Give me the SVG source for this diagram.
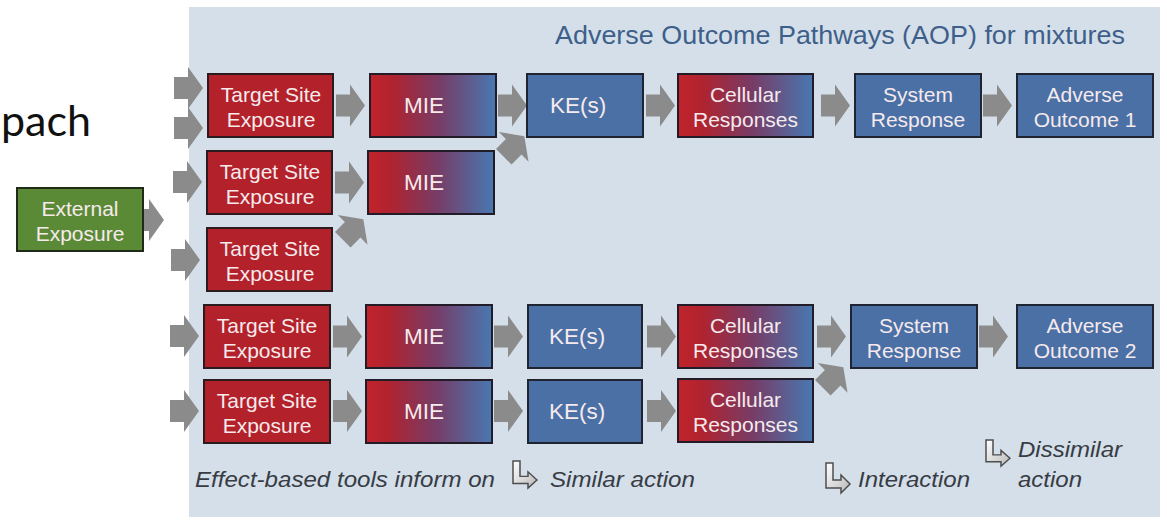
<svg xmlns="http://www.w3.org/2000/svg" xmlns:xlink="http://www.w3.org/1999/xlink" width="1167" height="524" viewBox="0 0 1167 524">
<style>
.red{fill:#b3212a;stroke:#2b1a1e;stroke-width:2}
.blue{fill:#4a70a6;stroke:#1f2430;stroke-width:2}
.grad{fill:url(#rb);stroke:#221c28;stroke-width:2}
.green{fill:#5b8a37;stroke:#1f2a18;stroke-width:2}
.t{font-family:"Liberation Sans",Arial,sans-serif;font-size:21px;fill:#f6eaec;text-anchor:middle}
.t1{font-family:"Liberation Sans",Arial,sans-serif;font-size:22.5px;fill:#f6eaec;text-anchor:middle}
.leg{font-family:"Liberation Sans",Arial,sans-serif;font-size:22px;font-style:italic;fill:#383c44}
.arr{fill:#8b8b8b}
.bend{fill:url(#lg);stroke:#4e4e4e;stroke-width:1.5;stroke-linejoin:miter}
</style>
<defs>
<linearGradient id="rb" x1="0" y1="0" x2="1" y2="0">
<stop offset="0" stop-color="#c2232b"/>
<stop offset="0.18" stop-color="#b0232f"/>
<stop offset="0.55" stop-color="#773c66"/>
<stop offset="1" stop-color="#4878b1"/>
</linearGradient>
<linearGradient id="lg" x1="0" y1="0" x2="1" y2="1">
<stop offset="0" stop-color="#ffffff"/>
<stop offset="1" stop-color="#b8b8b8"/>
</linearGradient>
<path id="arrow" d="M-14,-11 H0 V-21 L15,0 L0,21 V11 H-14 Z"/>
<path id="bendarrow" d="M0,0 H7 V17 H15 V12 L24,21 L15,30 V25 H0 Z"/>
</defs>

<rect x="0" y="0" width="1167" height="524" fill="#ffffff"/>
<rect id="panel" x="189" y="7" width="971" height="510" fill="#d4dfe9"/>

<text x="1" y="136" font-family="Lato,'Open Sans',sans-serif" font-size="43" fill="#111111">pach</text>
<text x="555" y="44" font-family="'Liberation Sans',Arial,sans-serif" font-size="26" fill="#3e5f8a" textLength="570" lengthAdjust="spacingAndGlyphs">Adverse Outcome Pathways (AOP) for mixtures</text>

<g id="connectors" class="arr">
<use href="#arrow" transform="translate(188,88)"/>
<use href="#arrow" transform="translate(188,128)"/>
<use href="#arrow" transform="translate(187,182)"/>
<use href="#arrow" transform="translate(185,260)"/>
<use href="#arrow" transform="translate(184,336)"/>
<use href="#arrow" transform="translate(184,411)"/>
<use href="#arrow" transform="translate(149,220)"/>
<use href="#arrow" transform="translate(350,105.5)"/>
<use href="#arrow" transform="translate(512,105.5)"/>
<use href="#arrow" transform="translate(660,105.5)"/>
<use href="#arrow" transform="translate(835,105.5)"/>
<use href="#arrow" transform="translate(997,105.5)"/>
<use href="#arrow" transform="translate(349,182.5)"/>
<use href="#arrow" transform="translate(347,336.5)"/>
<use href="#arrow" transform="translate(508,336.5)"/>
<use href="#arrow" transform="translate(661,336.5)"/>
<use href="#arrow" transform="translate(831,336.5)"/>
<use href="#arrow" transform="translate(993,336.5)"/>
<use href="#arrow" transform="translate(347,411)"/>
<use href="#arrow" transform="translate(508,411)"/>
<use href="#arrow" transform="translate(661,411)"/>
<use href="#arrow" transform="translate(513.7,146.8) rotate(-45)"/>
<use href="#arrow" transform="translate(352.7,229.8) rotate(-45)"/>
<use href="#arrow" transform="translate(832.7,377.8) rotate(-45)"/>
</g>

<g id="ext"><rect class="green" x="17" y="188" width="126" height="63"/><text class="t" x="80" y="215.5">External</text><text class="t" x="80" y="241">Exposure</text></g>

<g id="tse1"><rect class="red" x="208" y="74" width="125" height="63"/><text class="t" x="271" y="101.5">Target Site</text><text class="t" x="271" y="127">Exposure</text></g>
<g id="mie1"><rect class="grad" x="370" y="74" width="126" height="63"/><text class="t1" x="424" y="113">MIE</text></g>
<g id="ke1"><rect class="blue" x="527" y="74" width="116" height="63"/><text class="t1" x="578" y="113">KE(s)</text></g>
<g id="cell1"><rect class="grad" x="678" y="74" width="135" height="63"/><text class="t" x="745.5" y="101.5">Cellular</text><text class="t" x="745.5" y="127">Responses</text></g>
<g id="sys1"><rect class="blue" x="855" y="74" width="126" height="63"/><text class="t" x="918" y="101.5">System</text><text class="t" x="918" y="127">Response</text></g>
<g id="ao1"><rect class="blue" x="1017" y="74" width="136" height="63"/><text class="t" x="1085" y="101.5">Adverse</text><text class="t" x="1085" y="127">Outcome 1</text></g>

<g id="tse2"><rect class="red" x="207" y="151" width="125" height="63"/><text class="t" x="270" y="178.5">Target Site</text><text class="t" x="270" y="204">Exposure</text></g>
<g id="mie2"><rect class="grad" x="368" y="151" width="126" height="63"/><text class="t1" x="424" y="190">MIE</text></g>

<g id="tse3"><rect class="red" x="207" y="228" width="125" height="63"/><text class="t" x="270" y="255.5">Target Site</text><text class="t" x="270" y="281">Exposure</text></g>

<g id="tse4"><rect class="red" x="204" y="305" width="126" height="63"/><text class="t" x="267" y="332.5">Target Site</text><text class="t" x="267" y="358">Exposure</text></g>
<g id="mie4"><rect class="grad" x="366" y="305" width="126" height="63"/><text class="t1" x="424" y="344">MIE</text></g>
<g id="ke4"><rect class="blue" x="528" y="305" width="114" height="63"/><text class="t1" x="577" y="344">KE(s)</text></g>
<g id="cell4"><rect class="grad" x="678" y="305" width="135" height="63"/><text class="t" x="745.5" y="332.5">Cellular</text><text class="t" x="745.5" y="358">Responses</text></g>
<g id="sys4"><rect class="blue" x="851" y="305" width="126" height="63"/><text class="t" x="914" y="332.5">System</text><text class="t" x="914" y="358">Response</text></g>
<g id="ao2"><rect class="blue" x="1017" y="305" width="136" height="63"/><text class="t" x="1085" y="332.5">Adverse</text><text class="t" x="1085" y="358">Outcome 2</text></g>

<g id="tse5"><rect class="red" x="204" y="380" width="126" height="63"/><text class="t" x="267" y="407.5">Target Site</text><text class="t" x="267" y="433">Exposure</text></g>
<g id="mie5"><rect class="grad" x="366" y="380" width="126" height="63"/><text class="t1" x="424" y="419">MIE</text></g>
<g id="ke5"><rect class="blue" x="528" y="380" width="114" height="63"/><text class="t1" x="577" y="419">KE(s)</text></g>
<g id="cell5"><rect class="grad" x="678" y="379" width="135" height="63"/><text class="t" x="745.5" y="406.5">Cellular</text><text class="t" x="745.5" y="432">Responses</text></g>

<g id="legend">
<text class="leg" x="195" y="487" textLength="300" lengthAdjust="spacingAndGlyphs">Effect-based tools inform on</text>
<use href="#bendarrow" class="bend" transform="translate(513,461) scale(1,0.9)"/>
<text class="leg" x="550" y="487" textLength="145" lengthAdjust="spacingAndGlyphs">Similar action</text>
<use href="#bendarrow" class="bend" transform="translate(826,463)"/>
<text class="leg" x="858" y="487" textLength="112" lengthAdjust="spacingAndGlyphs">Interaction</text>
<use href="#bendarrow" class="bend" transform="translate(986,440) scale(1,0.87)"/>
<text class="leg" x="1018" y="457" textLength="104" lengthAdjust="spacingAndGlyphs">Dissimilar</text>
<text class="leg" x="1018" y="487" textLength="64" lengthAdjust="spacingAndGlyphs">action</text>
</g>
</svg>
